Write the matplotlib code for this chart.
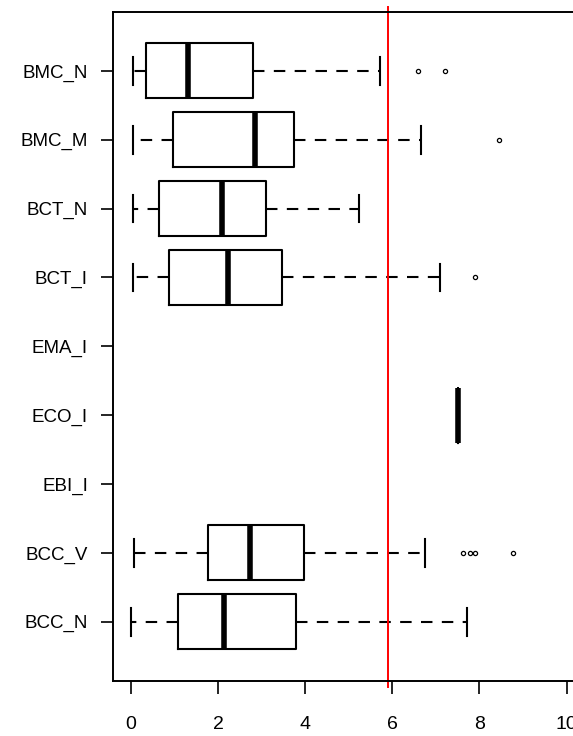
import matplotlib
matplotlib.use("Agg")
import matplotlib.pyplot as plt

# groups, bottom to top
labels = ["BCC_N", "BCC_V", "EBI_I", "ECO_I", "EMA_I", "BCT_I", "BCT_N", "BMC_M", "BMC_N"]
whislo = [0.00, 0.08, None, 7.50, None, 0.04, 0.04, 0.04, 0.04]
q1     = [1.09, 1.78, None, 7.50, None, 0.87, 0.65, 0.96, 0.34]
med    = [2.13, 2.74, None, 7.50, None, 2.23, 2.09, 2.84, 1.31]
q3     = [3.80, 3.98, None, 7.50, None, 3.46, 3.10, 3.75, 2.80]
whishi = [7.72, 6.76, None, 7.50, None, 7.10, 5.24, 6.67, 5.72]
fliers = [[], [7.62, 7.78, 7.91, 8.77], [], [], [], [7.89], [], [8.46], [6.59, 7.20]]
cutoff = 5.9

plt.rcParams['font.family'] = ['Liberation Sans', 'DejaVu Sans']

fig = plt.figure(figsize=(5.73, 7.36), dpi=100)
# axes run past the right edge of the image, as in the reference
ax = fig.add_axes([113/573, 1 - 681/736, (597 - 113)/573, (681 - 11.7)/736])

stats, pos = [], []
for i, lab in enumerate(labels):
    if med[i] is None:
        continue
    stats.append(dict(whislo=whislo[i], q1=q1[i], med=med[i], q3=q3[i],
                      whishi=whishi[i], fliers=fliers[i], label=lab))
    pos.append(i + 1)

ax.bxp(stats, positions=pos, vert=False, widths=0.8,
       boxprops=dict(color='black', linewidth=1.5),
       medianprops=dict(color='black', linewidth=4, solid_capstyle='butt'),
       whiskerprops=dict(color='black', linewidth=1.5, dashes=(5.5, 4.5)),
       capprops=dict(color='black', linewidth=1.5),
       flierprops=dict(marker='o', markersize=3, markerfacecolor='white',
                       markeredgecolor='black', markeredgewidth=0.9),
       capwidths=0.4, manage_ticks=False)

ax.axvline(cutoff, ymin=-0.009, ymax=1.007, color='red', linewidth=1.4, clip_on=False)

ax.set_xlim(-0.41, 10.7)
ax.set_ylim(0.14, 9.86)
ax.set_yticks(range(1, len(labels) + 1))
ax.set_yticklabels(labels)
ax.set_xticks([0, 2, 4, 6, 8, 10])
ax.tick_params(axis='y', length=9, width=1.2, pad=9, labelsize=13.5)
ax.tick_params(axis='x', length=9, width=1.2, pad=16, labelsize=14)
for s in ax.spines.values():
    s.set_linewidth(1.4)

fig.savefig("out.png", dpi=100)
